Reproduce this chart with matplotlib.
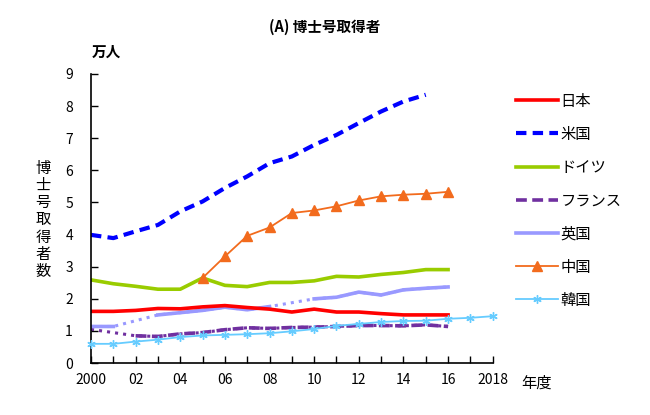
import numpy as np
import matplotlib
matplotlib.use('Agg')
import matplotlib.pyplot as plt
from matplotlib.lines import Line2D

plt.rcParams['font.family'] = ['Noto Sans CJK JP', 'DejaVu Sans']

nan = np.nan
years = np.arange(2000, 2019)

# 万人, 2000..2018 (NaN = no data)
japan = [1.61, 1.61, 1.64, 1.70, 1.69, 1.75, 1.79, 1.73, 1.68, 1.59, 1.68, 1.59, 1.59, 1.54, 1.50, 1.50, 1.50, nan, nan]
usa = [3.99, 3.89, 4.10, 4.30, 4.72, 5.03, 5.45, 5.81, 6.22, 6.43, 6.79, 7.10, 7.47, 7.83, 8.14, 8.35, nan, nan, nan]
germany = [2.59, 2.47, 2.39, 2.30, 2.30, 2.65, 2.42, 2.38, 2.51, 2.51, 2.56, 2.70, 2.68, 2.76, 2.82, 2.91, 2.91, nan, nan]
france = [1.05, nan, 0.85, 0.83, 0.91, 0.95, 1.04, 1.10, 1.08, 1.11, 1.12, 1.14, 1.17, 1.17, 1.16, 1.19, 1.14, nan, nan]
uk = [1.14, 1.14, nan, 1.50, 1.57, 1.64, 1.74, 1.66, 1.76, nan, 2.00, 2.05, 2.21, 2.12, 2.28, 2.33, 2.37, nan, nan]
china = [nan, nan, nan, nan, nan, 2.65, 3.32, 3.96, 4.22, 4.67, 4.75, 4.88, 5.06, 5.19, 5.24, 5.27, 5.33, nan, nan]
korea = [0.60, 0.60, 0.67, 0.73, 0.81, 0.86, 0.88, 0.90, 0.93, 0.99, 1.06, 1.16, 1.22, 1.28, 1.31, 1.32, 1.38, 1.41, 1.46]

tick_labels = ['2000', '', '02', '', '04', '', '06', '', '08', '', '10', '', '12', '', '14', '', '16', '', '2018']

c_jp = '#ff0000'
c_us = '#0000ff'
c_de = '#99cc00'
c_fr = '#7030a0'
c_uk = '#9999ff'
c_cn = '#f26b1d'
c_kr = '#66ccff'

fig = plt.figure(figsize=(6.5, 4.15), dpi=100)
ax = fig.add_axes([0.14, 0.125, 0.618, 0.697])


def dotted_gaps(y, color, lw):
    # dotted connector through the years with no data
    y = np.array(y, dtype=float)
    ok = ~np.isnan(y)
    ax.plot(years[ok], y[ok], ':', color=color, lw=lw, zorder=1)


dotted_gaps(uk, c_uk, 2.2)
dotted_gaps(france, c_fr, 2.2)

ax.plot(years, korea, '-', color=c_kr, lw=1.3, marker=(6, 2, 0), ms=6, mew=1.0, clip_on=False, zorder=3)
ax.plot(years, uk, '-', color=c_uk, lw=2.6, zorder=2)
ax.plot(years, france, '--', color=c_fr, lw=2.6, dashes=(3, 1.5), zorder=2)
ax.plot(years, germany, '-', color=c_de, lw=2.6, zorder=2)
ax.plot(years, japan, '-', color=c_jp, lw=2.6, zorder=2)
ax.plot(years, china, '-', color=c_cn, lw=1.3, marker='^', ms=6.5, zorder=3)
ax.plot(years, usa, '--', color=c_us, lw=3.0, dashes=(2.5, 1.5), zorder=2)

ax.set_xlim(2000, 2018)
ax.set_ylim(0, 9)
ax.set_xticks(years)
ax.set_xticklabels(tick_labels)
ax.set_yticks(range(0, 10))
ax.tick_params(direction='in', length=5, width=1, labelsize=10, colors='black')
ax.tick_params(axis='x', pad=7)
ax.tick_params(axis='y', pad=13)
for s in ['top', 'right']:
    ax.spines[s].set_visible(False)
for s in ['left', 'bottom']:
    ax.spines[s].set_linewidth(1.2)

handles = [
    Line2D([], [], color=c_jp, lw=2.6),
    Line2D([], [], color=c_us, lw=3.0, ls='--', dashes=(2.5, 1.5)),
    Line2D([], [], color=c_de, lw=2.6),
    Line2D([], [], color=c_fr, lw=2.6, ls='--', dashes=(3, 1.5)),
    Line2D([], [], color=c_uk, lw=2.6),
    Line2D([], [], color=c_cn, lw=1.3, marker='^', ms=6.5),
    Line2D([], [], color=c_kr, lw=1.3, marker=(6, 2, 0), ms=6, mew=1.0),
]
names = ['日本', '米国', 'ドイツ', 'フランス', '英国', '中国', '韓国']
fig.legend(handles, names, loc='upper left', bbox_to_anchor=(0.772, 0.81),
           frameon=False, fontsize=11, handlelength=2.8, handletextpad=0.15,
           labelspacing=1.06, markerfirst=True)

fig.text(0.5, 0.935, '(A) 博士号取得者', ha='center', va='center', fontsize=10.5, fontweight='bold')
fig.text(0.163, 0.875, '万人', ha='center', va='center', fontsize=10.5, fontweight='bold')
fig.text(0.066, 0.47, '\n'.join('博士号取得者数'), ha='center', va='center', fontsize=11, linespacing=1.02)
fig.text(0.826, 0.077, '年度', ha='center', va='center', fontsize=11)

fig.savefig('out.png', dpi=100)
